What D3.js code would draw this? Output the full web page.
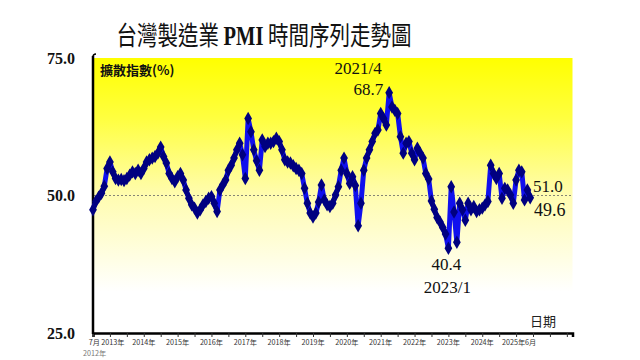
<!DOCTYPE html>
<html><head><meta charset="utf-8">
<script src="https://cdn.jsdelivr.net/npm/d3@7"></script>
<style>body{margin:0;background:#fff}svg{display:block}</style>
</head><body>
<svg id="c" width="640" height="360"></svg>
<script>
// Monthly PMI, Jul 2012 .. Jun 2025
const startYear = 2012, startMonth = 7;
const pmi = [
47.4,48.9,49.7,50.4,51.7,54.9,
56.1,54.3,53.1,52.8,52.9,52.7,53.1,53.7,54.3,54.0,54.6,54.0,
54.9,56.1,56.5,56.8,57.1,57.7,58.8,57.1,55.9,54.0,53.1,52.5,
53.4,54.0,52.8,51.0,49.5,48.3,47.7,46.8,47.4,48.3,48.9,49.5,
49.8,48.6,47.1,51.0,51.9,52.8,54.6,55.5,56.8,58.3,59.5,57.4,
53.1,64.0,61.6,58.3,56.3,54.6,60.1,58.9,59.5,59.5,59.8,60.4,
59.8,58.3,56.5,56.1,55.9,55.4,54.9,54.6,54.0,51.3,48.6,46.8,
46.1,46.8,48.8,51.9,49.2,48.3,48.0,48.6,50.1,51.6,54.6,56.8,
54.0,52.2,53.4,51.8,44.5,48.6,54.6,56.8,58.3,59.8,61.3,61.9,
64.9,64.0,62.8,68.7,66.1,65.5,64.9,60.7,57.7,59.5,59.8,57.7,
56.5,58.6,57.7,56.8,54.0,53.0,49.0,47.5,46.0,45.2,44.2,43.0,
40.4,51.6,47.0,41.5,48.6,47.4,45.5,48.6,47.4,48.0,47.1,47.4,
47.7,48.3,48.9,55.5,54.0,53.1,54.0,49.5,51.3,51.0,50.1,48.6,
52.8,54.6,54.3,49.2,51.0,49.6
];
const yTicks = [25, 50, 75];
const xYearLabels = ["2013年","2014年","2015年","2016年","2017年","2018年","2019年","2020年","2021年","2022年","2023年","2024年","2025年6月"];
const xYears = [2013,2014,2015,2016,2017,2018,2019,2020,2021,2022,2023,2024,2025];
const annotations = [
  {i:105, lines:["2021/4","68.7"]},
  {i:126, lines:["40.4","2023/1"]},
  {i:154, lines:["51.0"]},
  {i:155, lines:["49.6"]}
];

const svg = d3.select("#c");
const L=93, R=572.5, T=58, B=333;
const monthsSpan = 170;
const x = d3.scaleLinear().domain([0, monthsSpan]).range([L, R]);
const y = d3.scaleLinear().domain([25, 75]).range([B, T]);
const mIndex = (yr, mo) => (yr - startYear) * 12 + (mo - startMonth);

// background gradient
const defs = svg.append("defs");
const g = defs.append("linearGradient").attr("id","bg").attr("x1",0).attr("y1",0).attr("x2",0).attr("y2",1);
g.append("stop").attr("offset","0%").attr("stop-color","#ffff00");
g.append("stop").attr("offset","22%").attr("stop-color","#ffff40");
g.append("stop").attr("offset","50%").attr("stop-color","#fffcb0");
g.append("stop").attr("offset","85%").attr("stop-color","#ffffff");
g.append("stop").attr("offset","100%").attr("stop-color","#ffffff");
svg.append("rect").attr("x",L).attr("y",T).attr("width",R-L).attr("height",B-T).attr("fill","url(#bg)");

// title
const title = svg.append("text").attr("transform","translate(264,45) scale(1,1.3)")
  .attr("text-anchor","middle").attr("font-size",20.5).attr("fill","#111")
  .attr("font-family","'Noto Sans CJK TC','Noto Sans CJK SC',sans-serif");
title.append("tspan").text("台灣製造業 ");
title.append("tspan").attr("font-family","'Liberation Serif',serif").attr("font-weight","bold").text("PMI");
title.append("tspan").text(" 時間序列走勢圖");

// 50 reference dashed line
svg.append("line").attr("x1",L).attr("x2",R).attr("y1",y(50)).attr("y2",y(50))
  .attr("stroke","#666").attr("stroke-width",0.8).attr("stroke-dasharray","2,2");

// y tick labels
svg.selectAll(".yt").data(yTicks).enter().append("text")
  .attr("x",75).attr("y",d=>y(d)).attr("dy","0.35em").attr("text-anchor","end")
  .attr("font-family","'Liberation Serif',serif").attr("font-weight","bold").attr("font-size",16)
  .attr("fill","#111").text(d=>d.toFixed(1));

// axes
const xAxis = d3.axisBottom(x).tickValues(d3.range(0, monthsSpan+1, 6)).tickSize(4).tickFormat("");
const xa = svg.append("g").attr("transform",`translate(0,${B})`).call(xAxis);
xa.select(".domain").attr("stroke","#000").attr("stroke-width",2.5);
xa.selectAll(".tick line").attr("stroke","#333").attr("stroke-width",1);
svg.append("line").attr("x1",L).attr("x2",L).attr("y1",T-2).attr("y2",B+1)
  .attr("stroke","#000").attr("stroke-width",2.5);
svg.append("path").attr("d",`M${L},${T-1} q0,-3 3,-3`).attr("fill","none").attr("stroke","#000").attr("stroke-width",1.5);

// x tick labels
const xl = svg.append("g").attr("font-family","'Noto Sans CJK TC',sans-serif").attr("font-size",7.2).attr("fill","#333");
xl.selectAll("text").data(xYears).enter().append("text")
  .attr("x",(d,i)=>x(mIndex(d,1)) + (i===0?3:(i===xYears.length-1?3:0))).attr("y",B+12).attr("text-anchor","middle")
  .text((d,i)=>xYearLabels[i]);
xl.append("text").attr("x",x(0)+7).attr("y",B+12).attr("text-anchor","end").text("7月");
xl.append("text").attr("x",x(0)-10).attr("y",B+23).attr("fill","#777").text(startYear+"年");

// axis title labels
svg.append("text").attr("x",100).attr("y",75).attr("font-size",13).attr("font-weight","bold")
  .attr("font-family","'Noto Sans CJK TC',sans-serif").attr("fill","#111").text("擴散指數(%)");
svg.append("text").attr("x",530).attr("y",326).attr("font-size",13)
  .attr("font-family","'Noto Sans CJK TC',sans-serif").attr("fill","#222").text("日期");

// series
const line = d3.line().x((d,i)=>x(i)).y(d=>y(d));
svg.append("path").datum(pmi).attr("d",line).attr("fill","none")
  .attr("stroke","#1010ee").attr("stroke-width",5).attr("stroke-linejoin","round");
const sym = d3.symbol().type(d3.symbolDiamond).size(52);
svg.selectAll(".pt").data(pmi).enter().append("path")
  .attr("transform",(d,i)=>`translate(${x(i)},${y(d)})`).attr("d",sym).attr("fill","#000080");

// annotations
const af = "'Liberation Serif',serif";
const a1 = annotations[0];
svg.append("text").attr("x",x(a1.i)-31).attr("y",y(pmi[a1.i])-19).attr("text-anchor","middle")
  .attr("font-family",af).attr("font-size",17).attr("fill","#111").text(a1.lines[0]);
svg.append("text").attr("x",x(a1.i)-6).attr("y",y(pmi[a1.i])+2).attr("text-anchor","end")
  .attr("font-family",af).attr("font-size",17).attr("fill","#111").text(a1.lines[1]);
const a2 = annotations[1];
svg.append("text").attr("x",x(a2.i)-2).attr("y",y(pmi[a2.i])+22).attr("text-anchor","middle")
  .attr("font-family",af).attr("font-size",17).attr("fill","#111").text(a2.lines[0]);
svg.append("text").attr("x",x(a2.i)-1).attr("y",y(pmi[a2.i])+45).attr("text-anchor","middle")
  .attr("font-family",af).attr("font-size",17).attr("fill","#111").text(a2.lines[1]);
const a3 = annotations[2];
svg.append("text").attr("x",533).attr("y",y(pmi[a3.i])+2).attr("text-anchor","start")
  .attr("font-family",af).attr("font-size",17).attr("fill","#111").text(a3.lines[0]);
const a4 = annotations[3];
svg.append("text").attr("x",534).attr("y",y(pmi[a4.i])+18).attr("text-anchor","start")
  .attr("font-family",af).attr("font-size",18).attr("fill","#111").text(a4.lines[0]);
</script>
</body></html>
